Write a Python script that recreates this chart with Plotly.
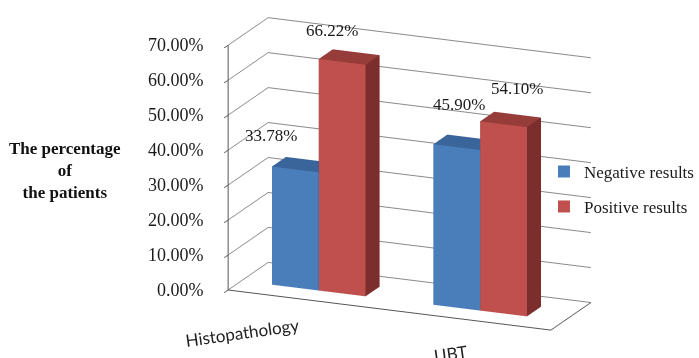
import plotly.graph_objects as go

# Chart data
categories = ["Histopathology", "UBT"]
series_names = ["Negative results", "Positive results"]
negative = [0.3378, 0.4590]
positive = [0.6622, 0.5410]
value_labels_neg = ["33.78%", "45.90%"]
value_labels_pos = ["66.22%", "54.10%"]
z_ticks = [0.0, 0.1, 0.2, 0.3, 0.4, 0.5, 0.6, 0.7]
z_tick_text = ["0.00%", "10.00%", "20.00%", "30.00%", "40.00%", "50.00%", "60.00%", "70.00%"]

# Face shades (front, top, side) for each series
shades = {
    "Negative results": ("#4a7ebb", "#3a659a", "#2f5480"),
    "Positive results": ("#c0504d", "#963c39", "#7b2e2c"),
}
# pixel nudges for the value labels and category labels (x, y)
label_shift = {
    "Negative results": [(-24, 34), (3, 43)],
    "Positive results": [(-10, 31), (14, 36)],
}
category_shift = [(-2, -12), (4, -19)]

BAR_W = 0.29          # bar width along the category axis
DEPTH = (0.33, 0.68)  # bar extent along the depth axis
SERIF = "Liberation Serif"
K = 1.43              # overall scene scale
X_RANGE = [-0.48, 1.52]


def box_trace(xc, height, name):
    front, top, side = shades[name]
    x0, x1 = xc - BAR_W / 2, xc + BAR_W / 2
    y0, y1 = DEPTH
    z0, z1 = 0.0, height
    xs = [x0, x1, x1, x0, x0, x1, x1, x0]
    ys = [y0, y0, y1, y1, y0, y0, y1, y1]
    zs = [z0, z0, z0, z0, z1, z1, z1, z1]
    faces = [
        ((0, 1, 5), front), ((0, 5, 4), front),    # front
        ((4, 5, 6), top), ((4, 6, 7), top),        # top
        ((1, 2, 6), side), ((1, 6, 5), side),      # right side
        ((0, 3, 7), side), ((0, 7, 4), side),      # left side
        ((3, 2, 6), front), ((3, 6, 7), front),    # back
        ((0, 1, 2), top), ((0, 2, 3), top),        # bottom
    ]
    return go.Mesh3d(
        x=xs, y=ys, z=zs,
        i=[f[0][0] for f in faces],
        j=[f[0][1] for f in faces],
        k=[f[0][2] for f in faces],
        facecolor=[f[1] for f in faces],
        flatshading=True,
        lighting=dict(ambient=1.0, diffuse=0.0, specular=0.0, roughness=1.0, fresnel=0.0),
        hoverinfo="skip",
        showlegend=False,
        showscale=False,
    )


fig = go.Figure()
scene_notes = []

offsets = {"Negative results": -BAR_W / 2, "Positive results": BAR_W / 2}
for name, vals, labels in [
    ("Negative results", negative, value_labels_neg),
    ("Positive results", positive, value_labels_pos),
]:
    xcs = [ci + offsets[name] for ci in range(len(categories))]
    for idx, (xc, v, lab) in enumerate(zip(xcs, vals, labels)):
        fig.add_trace(box_trace(xc, v, name))
        dx, dy = label_shift[name][idx]
        scene_notes.append(dict(
            x=xc, y=DEPTH[0], z=v, text=lab, showarrow=False,
            xanchor="center", yanchor="middle", xshift=dx, yshift=dy,
            font=dict(family=SERIF, size=17, color="#1a1a1a"),
        ))

# value-axis labels, set off to the left of the front wall edge
for t, tt in zip(z_ticks, z_tick_text):
    scene_notes.append(dict(
        x=X_RANGE[0], y=0, z=t, text=tt, showarrow=False,
        xanchor="right", yanchor="middle", xshift=-22, yshift=0,
        font=dict(family=SERIF, size=18, color="#1a1a1a"),
    ))

# category labels below the floor's front edge
for ci, cat in enumerate(categories):
    dx, dy = category_shift[ci]
    scene_notes.append(dict(
        x=ci, y=0, z=0, text=cat, showarrow=False,
        xanchor="right", yanchor="top", xshift=dx, yshift=dy, textangle=-8,
        font=dict(family="Lato", size=17, color="#222222"),
    ))

# legend entries
for name, leg in [("Negative results", "legend"), ("Positive results", "legend2")]:
    fig.add_trace(go.Scatter3d(
        x=[None], y=[None], z=[None], mode="markers", name=name,
        marker=dict(symbol="square", size=12, color=shades[name][0]),
        legend=leg, showlegend=True, hoverinfo="skip",
    ))

axis_common = dict(
    showbackground=False,
    showspikes=False,
    title=dict(text=""),
    linecolor="#555555",
    linewidth=2,
    tickangle=0,
    zeroline=False,
)

fig.update_layout(
    width=699, height=358,
    margin=dict(l=0, r=0, t=0, b=0),
    paper_bgcolor="white",
    showlegend=True,
    scene=dict(
        domain=dict(x=[0.255, 0.975], y=[0.0, 1.0]),
        xaxis=dict(
            **axis_common,
            range=X_RANGE, tickvals=[0, 1],
            showgrid=False, showline=True, ticks="", showticklabels=False,
        ),
        yaxis=dict(
            **axis_common,
            range=[0, 1], showgrid=False, showline=True,
            showticklabels=False, ticks="",
        ),
        zaxis=dict(
            **axis_common,
            range=[0, 0.7], tickvals=z_ticks,
            showgrid=True, gridcolor="#8a8a8a", gridwidth=2,
            showline=True, ticks="outside", ticklen=8, tickcolor="#555555",
            tickwidth=2, showticklabels=False,
        ),
        aspectmode="manual",
        aspectratio=dict(x=1.37 * K, y=0.40 * K, z=1.0 * K),
        camera=dict(
            eye=dict(x=0.874, y=-2.058, z=0.654),
            center=dict(x=0, y=0, z=-0.03),
            up=dict(x=0, y=0, z=1),
            projection=dict(type="orthographic"),
        ),
        annotations=scene_notes,
    ),
    legend=dict(
        x=0.818, y=0.52, xanchor="left", yanchor="middle",
        font=dict(family=SERIF, size=17, color="#1a1a1a"),
        bgcolor="rgba(0,0,0,0)", itemwidth=30,
    ),
    legend2=dict(
        x=0.818, y=0.422, xanchor="left", yanchor="middle",
        font=dict(family=SERIF, size=17, color="#1a1a1a"),
        bgcolor="rgba(0,0,0,0)", itemwidth=30,
    ),
    annotations=[
        dict(
            text="The percentage<br>of<br>the patients",
            xref="paper", yref="paper", x=0.097, y=0.525,
            xanchor="center", yanchor="middle", showarrow=False, align="center",
            font=dict(family=SERIF, size=17, color="#111111", weight="bold"),
        )
    ],
)

fig.write_html("out.html")
